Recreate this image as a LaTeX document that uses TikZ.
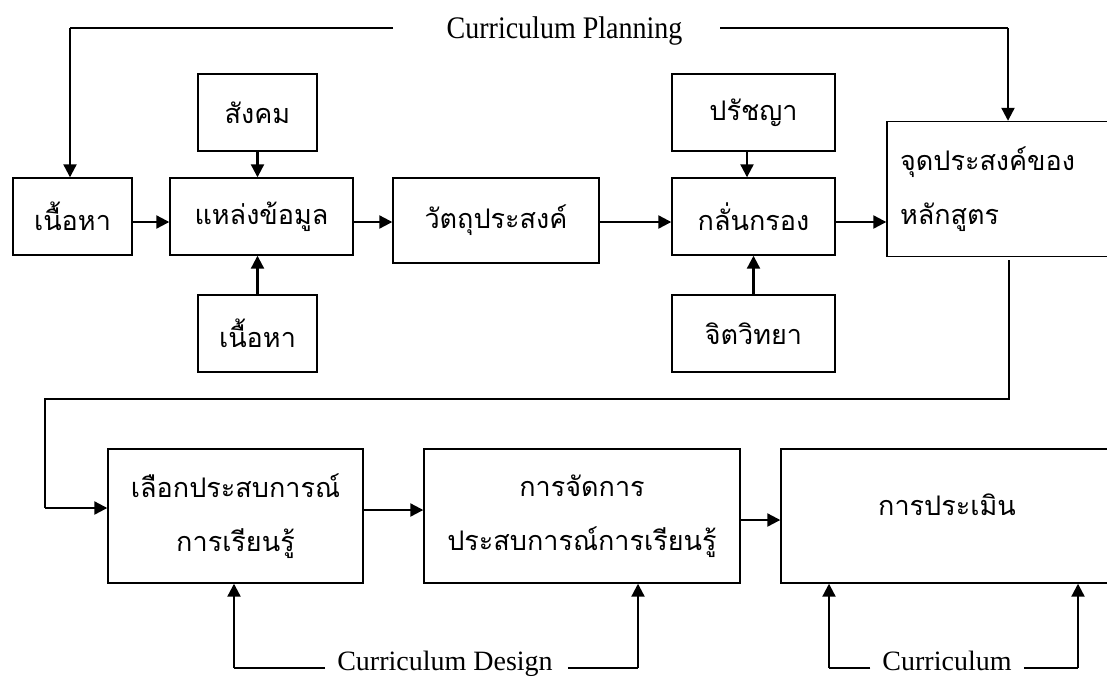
\documentclass[tikz,border=0pt]{standalone}
\usepackage{fontspec}
\setmainfont{Liberation Serif}
\newfontfamily\thai[Script=Thai]{Loma}
\usetikzlibrary{arrows.meta}
\begin{document}
\begin{tikzpicture}[x=1pt,y=-1pt,
  box/.style={draw,line width=1.4pt,inner sep=0pt,font=\thai\fontsize{27}{54}\selectfont,align=center},
  arr/.style={line width=2.2pt,-{Triangle[length=13pt,width=13pt]}},
  thin/.style={line width=1.1pt},
  lbl/.style={font=\fontsize{28}{32}\selectfont,inner sep=0pt}]
\useasboundingbox (0,0) rectangle (1107,678);
% top row
\node[box,minimum width=119pt,minimum height=77pt] (nl) at (72.5,216.5) {เนื้อหา};
\node[box,minimum width=183pt,minimum height=77pt] (src) at (261.5,216.5) {แหล่งข้อมูล};
\node[box,minimum width=119pt,minimum height=77pt] (soc) at (257.5,112.5) {สังคม};
\node[box,minimum width=119pt,minimum height=77pt] (cont) at (257.5,333.5) {เนื้อหา};
\node[box,minimum width=206pt,minimum height=85pt] (obj) at (496,220.5) {วัตถุประสงค์};
\node[box,minimum width=163pt,minimum height=77pt] (filt) at (753.5,216.5) {กลั่นกรอง};
\node[box,minimum width=163pt,minimum height=77pt] (phil) at (753.5,112.5) {ปรัชญา};
\node[box,minimum width=163pt,minimum height=77pt] (psy) at (753.5,333.5) {จิตวิทยา};
\node[box,minimum width=225pt,minimum height=135pt,align=left,text width=199pt] (aim) at (999.5,189) {จุดประสงค์ของ\\หลักสูตร};
% bottom row
\node[box,minimum width=255pt,minimum height=134pt] (sel) at (235.5,516) {เลือกประสบการณ์\\การเรียนรู้};
\node[box,minimum width=316pt,minimum height=134pt] (org) at (582,516) {การจัดการ\\ประสบการณ์การเรียนรู้};
\node[box,minimum width=331pt,minimum height=134pt] (eval) at (946.5,516) {};
\node[font=\thai\fontsize{27}{54}\selectfont,inner sep=0pt] (evalt) at (947,505) {การประเมิน};
% labels
\node[lbl] (plan) at (564.5,31) {\scalebox{1}[1.12]{Curriculum Planning}};
\node[lbl,anchor=base] (des) at (445,670) {Curriculum Design};
\node[lbl,anchor=base] (cur) at (947,670) {Curriculum};
% coordinates
\coordinate (pl) at (70,28);
\coordinate (pm1) at (393,28);
\coordinate (pm2) at (720,28);
\coordinate (pr) at (1008,28);
\coordinate (a1) at (1009,260);
\coordinate (a2) at (1009,399);
\coordinate (a3) at (45,399);
\coordinate (a4) at (45,508);
\coordinate (d1) at (234,668);
\coordinate (d2) at (638,668);
\coordinate (c1) at (829,668);
\coordinate (c2) at (1078,668);
% top connectors
\draw[thin] (pm1) -- (pl);
\draw[arr] (pl) -- (nl.north -| pl);
\draw[thin] (pm2) -- (pr);
\draw[arr] (pr) -- (aim.north -| pr);
\draw[arr] (nl.east |- 0,222) -- (src.west |- 0,222);
\draw[arr] (src.east |- 0,222) -- (obj.west |- 0,222);
\draw[arr] (obj.east |- 0,222) -- (filt.west |- 0,222);
\draw[arr] (filt.east |- 0,222) -- (aim.west |- 0,222);
\draw[arr] (soc.south) -- (soc.south |- src.north);
\draw[arr] (cont.north) -- (cont.north |- src.south);
\draw[arr] (phil.south -| 747,0) -- (filt.north -| 747,0);
\draw[arr] (psy.north) -- (filt.south);
% to bottom row
\draw[thin] (a1) -- (a2) -- (a3) -- (a4);
\draw[arr] (a4) -- (sel.west |- a4);
\draw[arr] (sel.east |- 0,510) -- (org.west |- 0,510);
\draw[arr] (org.east |- 0,520) -- (eval.west |- 0,520);
% bottom feedback
\draw[thin] ([xshift=-12pt]des.west |- d1) -- (d1);
\draw[arr] (d1) -- (sel.south -| d1);
\draw[thin] ([xshift=15pt]des.east |- d2) -- (d2);
\draw[arr] (d2) -- (org.south -| d2);
\draw[thin] ([xshift=-12pt]cur.west |- c1) -- (c1);
\draw[arr] (c1) -- (eval.south -| c1);
\draw[thin] ([xshift=12pt]cur.east |- c2) -- (c2);
\draw[arr] (c2) -- (eval.south -| c2);
\end{tikzpicture}
\end{document}
